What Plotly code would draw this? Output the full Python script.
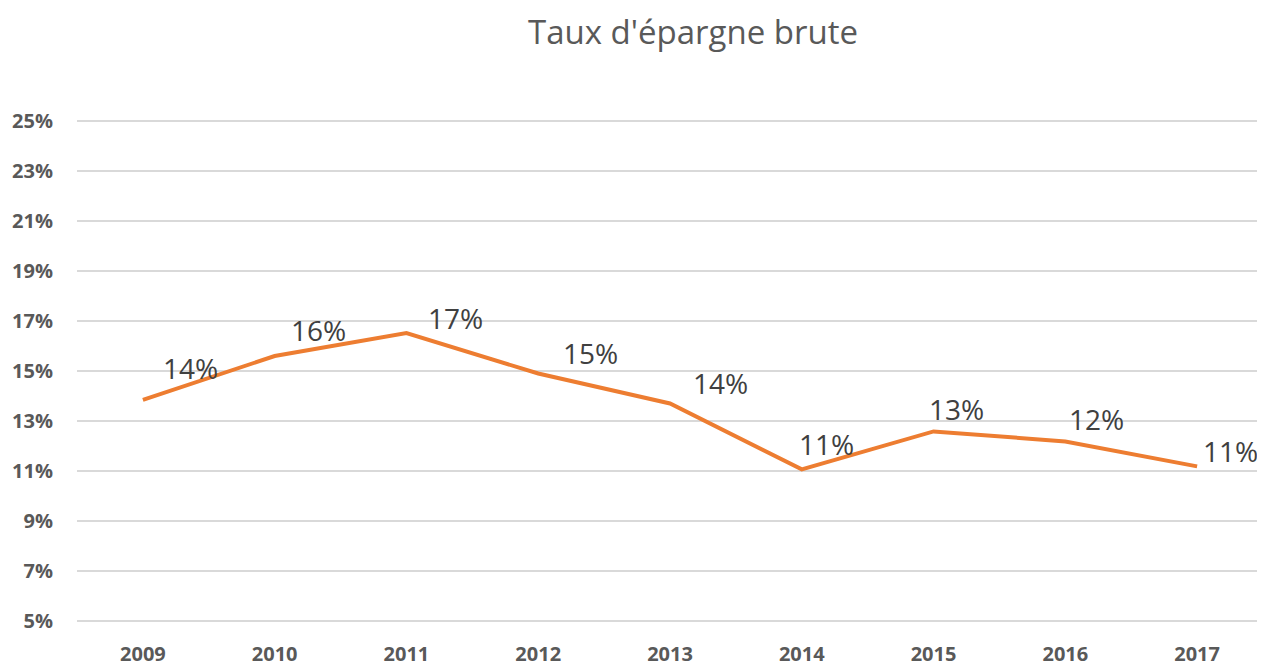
"""Taux d'épargne brute line chart."""

import plotly.graph_objects as go

years = ["2009", "2010", "2011", "2012", "2013", "2014", "2015", "2016", "2017"]
savings_rate = [0.1384, 0.1560, 0.1652, 0.1490, 0.1370, 0.1106, 0.1258, 0.1218, 0.1118]
value_labels = ["14%", "16%", "17%", "15%", "14%", "11%", "13%", "12%", "11%"]
y_ticks = [0.05, 0.07, 0.09, 0.11, 0.13, 0.15, 0.17, 0.19, 0.21, 0.23, 0.25]

# label offsets in px (labels were placed by hand in the original)
label_dx = [48, 44, 49, 52, 50, 25, 23, 31, 33]
label_dy = [32, 26, 15, 21, 20, 25, 22, 22, 15]

fig = go.Figure(
    go.Scatter(
        x=years,
        y=savings_rate,
        mode="lines",
        line=dict(color="#ED7D31", width=4),
        hoverinfo="skip",
    )
)

for i, (y, t) in enumerate(zip(savings_rate, value_labels)):
    fig.add_annotation(
        x=i, y=y, text=t, showarrow=False,
        xshift=label_dx[i], yshift=label_dy[i],
        font=dict(size=28, color="#404040", family="Open Sans"),
    )

# page body has an 8px margin, so the figure is shifted by 8px
fig.update_layout(
    width=1265,
    height=666,
    plot_bgcolor="white",
    paper_bgcolor="white",
    margin=dict(l=69, r=10, t=112, b=52),
    showlegend=False,
    title=dict(
        text="Taux d'épargne brute",
        x=0.5415, xanchor="center", y=0.964, yanchor="middle",
        font=dict(size=33, color="#595959", family="Open Sans"),
    ),
    font=dict(family="Open Sans", color="#595959"),
)
fig.update_xaxes(
    type="category", automargin=False, range=[-0.5, 8.5],
    showgrid=False, showline=False, zeroline=False,
    ticks="outside", ticklen=14, tickcolor="white",
    tickfont=dict(size=20, color="#595959", weight="bold"),
)
fig.update_yaxes(
    range=[0.0495, 0.2505], tickvals=y_ticks, tickformat=".0%",
    automargin=False,
    showgrid=True, gridcolor="#D9D9D9", gridwidth=2,
    zeroline=False, showline=False,
    ticks="outside", ticklen=19, tickcolor="white",
    tickfont=dict(size=20, color="#595959", weight="bold"),
)

fig.write_html("out.html")
